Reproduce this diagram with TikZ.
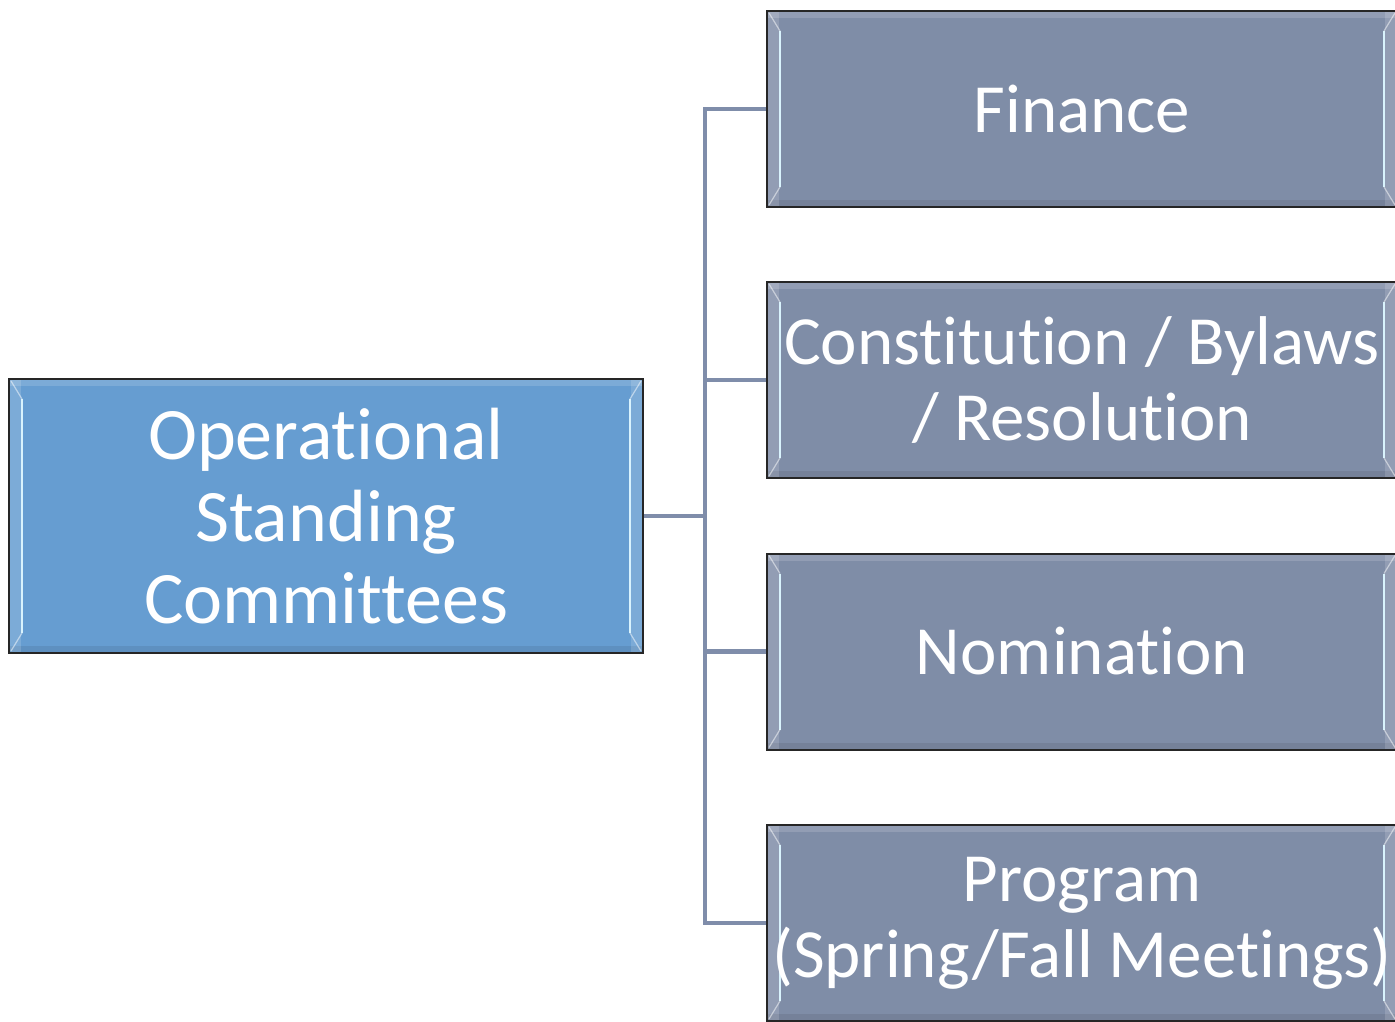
\documentclass[tikz,border=0pt]{standalone}
\usepackage{fontspec}
\setmainfont{Carlito}[Ligatures=NoCommon]
\usepackage{xcolor}
\usepackage{tikz}
\usetikzlibrary{positioning}

\definecolor{rootblue}{RGB}{102,157,209}
\definecolor{boxgrey}{RGB}{127,141,167}
\definecolor{linegrey}{RGB}{127,141,170}

\tikzset{
  bevel/.style={
    path picture={
      \fill[white,opacity=0.15] (path picture bounding box.north west) rectangle ([yshift=-7pt]path picture bounding box.north east);
      \fill[black,opacity=0.08] ([yshift=7pt]path picture bounding box.south west) rectangle (path picture bounding box.south east);
      \fill[white,opacity=0.15] (path picture bounding box.north west) rectangle ([xshift=12pt]path picture bounding box.south west);
      \fill[white,opacity=0.15] ([xshift=-12pt]path picture bounding box.north east) rectangle (path picture bounding box.south east);
      \draw[white!85!cyan,line width=2.5pt] ([xshift=13pt,yshift=-20pt]path picture bounding box.north west) -- ([xshift=13pt,yshift=20pt]path picture bounding box.south west);
      \draw[white!85!cyan,line width=2.5pt] ([xshift=-13pt,yshift=-20pt]path picture bounding box.north east) -- ([xshift=-13pt,yshift=20pt]path picture bounding box.south east);
      \draw[white,opacity=0.5,line width=1.2pt] ([xshift=2pt,yshift=-2pt]path picture bounding box.north west) -- ([xshift=13pt,yshift=-20pt]path picture bounding box.north west);
      \draw[white,opacity=0.5,line width=1.2pt] ([xshift=2pt,yshift=2pt]path picture bounding box.south west) -- ([xshift=13pt,yshift=20pt]path picture bounding box.south west);
      \draw[white,opacity=0.5,line width=1.2pt] ([xshift=-2pt,yshift=-2pt]path picture bounding box.north east) -- ([xshift=-13pt,yshift=-20pt]path picture bounding box.north east);
      \draw[white,opacity=0.5,line width=1.2pt] ([xshift=-2pt,yshift=2pt]path picture bounding box.south east) -- ([xshift=-13pt,yshift=20pt]path picture bounding box.south east);
    }},
  rootbox/.style={rectangle, draw=black!85, line width=2pt, fill=rootblue, bevel,
    minimum width=634pt, minimum height=274pt, text=white, align=center,
    font=\fontsize{74}{82}\selectfont, inner sep=0pt},
  comitato/.style={rectangle, draw=black!85, line width=2pt, fill=boxgrey, bevel,
    minimum width=630pt, minimum height=196pt, text=white, align=center,
    font=\fontsize{69}{76}\selectfont, inner sep=0pt},
  ramo/.style={draw=linegrey, line width=4.5pt}
}

\begin{document}
\begin{tikzpicture}[x=1pt,y=-1pt]
    \useasboundingbox (0,0) rectangle (1395,1021);

    % Nodo principale
    \node[rootbox] (root) at (326,516) {Operational\\Standing\\Committees};

    % Comitati
    \node[comitato] (fin) at (1082,109) {Finance};
    \node[comitato] (cost) at (1082,380) {Constitution / Bylaws\\/ Resolution};
    \node[comitato] (nom) at (1082,651.5) {Nomination};
    \node[comitato] (prog) at (1082,923) {Program\\(Spring/Fall Meetings)};

    % Collegamenti
    \coordinate (snodo) at (705,516);
    \draw[ramo] (root.east) -- (snodo);
    \draw[ramo] (snodo) |- (fin.west);
    \draw[ramo] (snodo) |- (cost.west);
    \draw[ramo] (snodo) |- (nom.west);
    \draw[ramo] (snodo) |- (prog.west);
\end{tikzpicture}
\end{document}
